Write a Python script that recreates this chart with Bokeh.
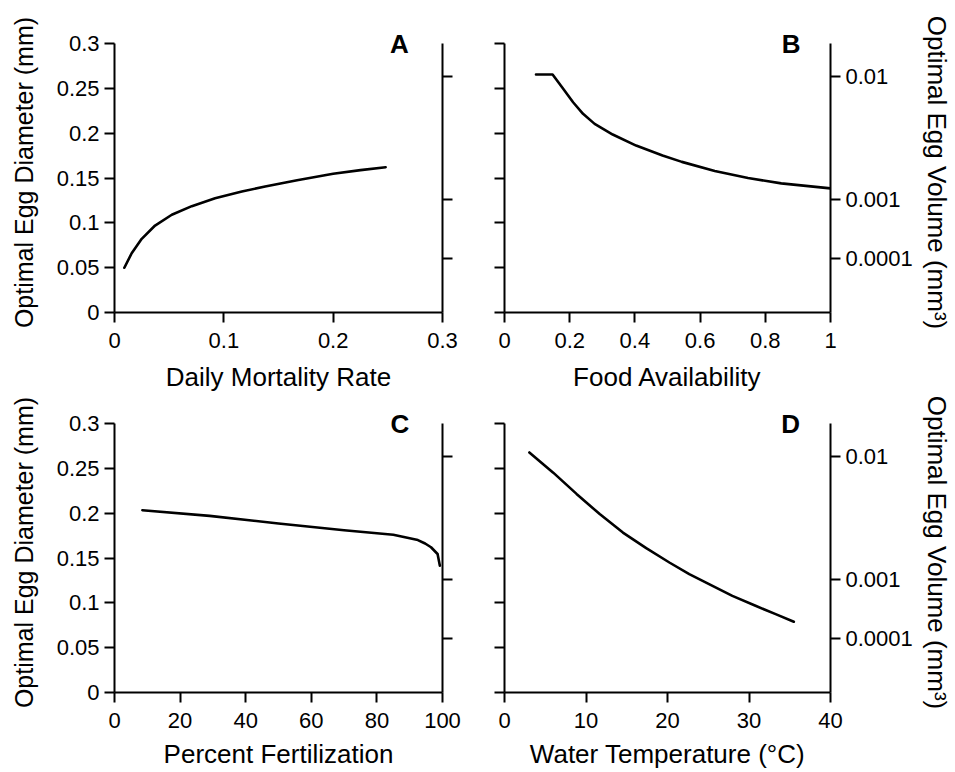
from bokeh.plotting import figure
from bokeh.models import Range1d, LinearAxis, FixedTicker, CustomJSTickFormatter, Label
from bokeh.layouts import row, column
from bokeh.embed import file_html
from bokeh.resources import INLINE

# ---- data ----
# Panel A: Daily mortality rate vs optimal egg diameter (mm)
mort_x = [0.009, 0.0157, 0.0249, 0.0371, 0.0524, 0.0707, 0.092, 0.1165, 0.1378, 0.167, 0.2, 0.225, 0.248]
mort_d = [0.0499, 0.0661, 0.0822, 0.097, 0.109, 0.1186, 0.1275, 0.135, 0.1405, 0.1476, 0.1547, 0.1588, 0.162]
# Panel B: Food availability
food_x = [0.0966, 0.1475, 0.18, 0.2104, 0.2409, 0.2765, 0.332, 0.4037, 0.4848, 0.544, 0.645, 0.747, 0.849, 1.0]
food_d = [0.2654, 0.2654, 0.2495, 0.2345, 0.2216, 0.2104, 0.1985, 0.1862, 0.1751, 0.168, 0.1578, 0.15, 0.144, 0.1384]
# Panel C: Percent fertilization
fert_x = [8.5, 29, 50, 70, 85, 92.5, 94.7, 96.5, 98.5, 99.2]
fert_d = [0.2033, 0.197, 0.1885, 0.181, 0.176, 0.170, 0.1662, 0.162, 0.1545, 0.1415]
# Panel D: Water temperature
temp_x = [3.05, 5.98, 8.84, 11.68, 14.53, 17.39, 20.23, 22.67, 25.1, 27.96, 30.8, 33.27, 35.5]
temp_d = [0.2677, 0.2452, 0.2215, 0.199, 0.1784, 0.161, 0.145, 0.132, 0.1209, 0.1078, 0.0967, 0.0874, 0.0789]

# ---- ticks ----
diam_ticks = [0, 0.05, 0.1, 0.15, 0.2, 0.25, 0.3]
diam_labels = ["0", "0.05", "0.1", "0.15", "0.2", "0.25", "0.3"]
vol_tick_diam = [0.2635, 0.1255, 0.0602]
vol_labels = ["0.01", "0.001", "0.0001"]
mort_ticks = [0, 0.1, 0.2, 0.3]
mort_labels = ["0", "0.1", "0.2", "0.3"]
food_ticks = [0, 0.2, 0.4, 0.6, 0.8, 1]
food_labels = ["0", "0.2", "0.4", "0.6", "0.8", "1"]
fert_ticks = [0, 20, 40, 60, 80, 100]
fert_labels = ["0", "20", "40", "60", "80", "100"]
temp_ticks = [0, 10, 20, 30, 40]
temp_labels = ["0", "10", "20", "30", "40"]

FONT = "Liberation Sans"
D_MAX = 0.3
Y_TOP = 0.3123  # a little head-room above 0.3 for the panel letters


def fmt(ticks, labels):
    return CustomJSTickFormatter(args=dict(t=list(ticks), l=list(labels)), code="""
        for (let i = 0; i < t.length; i++) {
            if (Math.abs(t[i] - tick) < 1e-9) { return l[i]; }
        }
        return "";
    """)


def style_axis(ax, ticks, labels, show_labels=True, title=None, label_standoff=5,
               title_standoff=8, title_size="26px", bounds=None):
    ax.ticker = FixedTicker(ticks=list(ticks))
    if bounds is not None:
        ax.bounds = bounds
    ax.axis_line_width = 2
    ax.axis_line_color = "black"
    ax.major_tick_line_width = 2
    ax.major_tick_line_color = "black"
    ax.major_tick_out = 10
    ax.major_tick_in = 0
    ax.minor_tick_line_color = None
    ax.major_label_text_font = FONT
    if show_labels:
        ax.formatter = fmt(ticks, labels)
        ax.major_label_text_color = "black"
        ax.major_label_text_font_size = "22px"
        ax.major_label_standoff = label_standoff
    else:
        ax.formatter = fmt(ticks, [""] * len(ticks))
        ax.major_label_text_color = None
        ax.major_label_text_font_size = "0px"
        ax.major_label_standoff = 0
    if title is not None:
        ax.axis_label = title
        ax.axis_label_text_font = FONT
        ax.axis_label_text_font_size = title_size
        ax.axis_label_text_font_style = "normal"
        ax.axis_label_text_color = "black"
        ax.axis_label_standoff = title_standoff


def make_panel(xr, xs, ys, xticks, xlabels, xtitle, letter, letter_x,
               left_labels, right_labels, width, height, mbl, mbr, mbt, mbb, xtitle_standoff):
    p = figure(width=width, height=height, x_range=Range1d(*xr), y_range=Range1d(0, Y_TOP),
               output_backend="svg", toolbar_location=None,
               min_border_left=mbl, min_border_right=mbr, min_border_top=mbt, min_border_bottom=mbb)
    p.grid.visible = False
    p.outline_line_color = None
    p.background_fill_color = "white"
    p.border_fill_color = "white"

    style_axis(p.xaxis[0], xticks, xlabels, True, xtitle, label_standoff=10,
               title_standoff=xtitle_standoff, title_size="26px")
    style_axis(p.yaxis[0], diam_ticks, diam_labels, left_labels,
               "Optimal Egg Diameter (mm)" if left_labels else None, label_standoff=5,
               title_standoff=16, title_size="25px", bounds=(0, D_MAX))

    rax = LinearAxis()
    style_axis(rax, vol_tick_diam, vol_labels, right_labels,
               "Optimal Egg Volume (mm³)" if right_labels else None, label_standoff=5,
               title_standoff=6, title_size="26px", bounds=(0, D_MAX))
    p.add_layout(rax, "right")

    p.line(xs, ys, line_color="black", line_width=2.6, line_join="round", line_cap="round")

    p.add_layout(Label(x=letter_x, y=D_MAX, text=letter, text_align="center", text_baseline="middle",
                       text_font=FONT, text_font_style="bold", text_font_size="26px",
                       text_color="black"))
    return p


pA = make_panel((0, 0.3), mort_x, mort_d, mort_ticks, mort_labels, "Daily Mortality Rate", "A", 0.2606,
                True, False, 476, 394, 114, 34, 32, 82, 11)
pB = make_panel((0, 1), food_x, food_d, food_ticks, food_labels, "Food Availability", "B", 0.879,
                False, True, 478, 394, 28, 118, 32, 82, 11)
pC = make_panel((0, 100), fert_x, fert_d, fert_ticks, fert_labels, "Percent Fertilization", "C", 87,
                True, False, 476, 377, 114, 34, 18, 79, 8)
pD = make_panel((0, 40), temp_x, temp_d, temp_ticks, temp_labels, "Water Temperature (°C)", "D", 35.1,
                False, True, 478, 377, 28, 118, 18, 79, 8)

layout = column(row(pA, pB), row(pC, pD))

open("out.html", "w").write(file_html(layout, INLINE))
